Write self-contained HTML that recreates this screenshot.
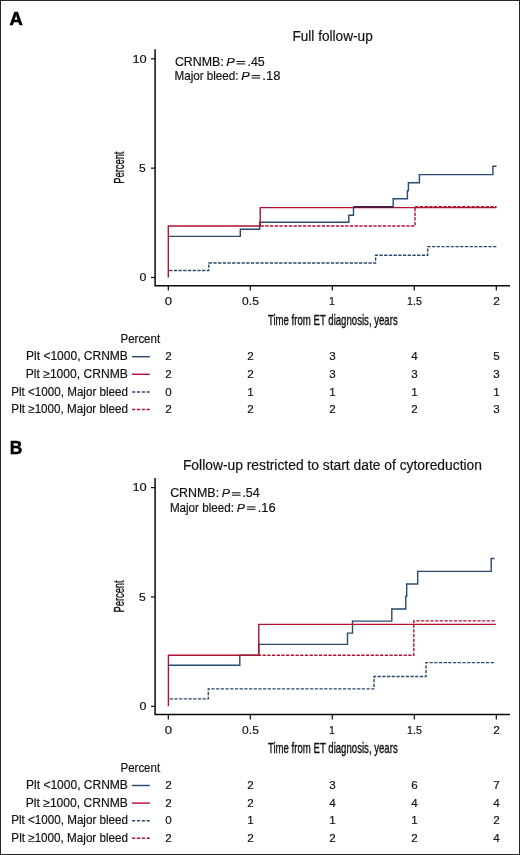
<!DOCTYPE html>
<html><head><meta charset="utf-8"><style>
html,body{margin:0;padding:0;background:#fff;width:520px;height:855px;overflow:hidden}
svg text{font-family:"Liberation Sans", sans-serif;stroke:#111;stroke-width:0.18px}
svg{will-change:transform}
</style></head><body>
<svg width="520" height="855" viewBox="0 0 520 855" style="display:block">
<rect x="0" y="0" width="520" height="855" fill="#fff"/>
<rect x="0.5" y="0.5" width="519" height="854" fill="none" stroke="#262626" stroke-width="1"/>
<text id="alab" x="9.58" y="24.80" font-size="18" textLength="13.25" lengthAdjust="spacingAndGlyphs" fill="#000" font-weight="bold" style="stroke:#000;stroke-width:0.5px">A</text>
<text id="atitle" x="292.40" y="41.00" font-size="14" textLength="80.34" lengthAdjust="spacingAndGlyphs" fill="#111" >Full follow-up</text>
<text id="apv1a" x="174.90" y="66.10" font-size="12.1" textLength="48.86" lengthAdjust="spacingAndGlyphs" fill="#111" >CRNMB:</text>
<text id="apv1p" x="226.19" y="66.10" font-size="11.8" textLength="8.41" lengthAdjust="spacingAndGlyphs" fill="#111" font-style="italic">P</text>
<text id="apv1v" x="247.47" y="66.10" font-size="12.1" textLength="17.26" lengthAdjust="spacingAndGlyphs" fill="#111" >.45</text>
<text id="apv2a" x="174.47" y="80.20" font-size="12.1" textLength="64.06" lengthAdjust="spacingAndGlyphs" fill="#111" >Major bleed:</text>
<text id="apv2p" x="241.19" y="80.20" font-size="11.8" textLength="8.41" lengthAdjust="spacingAndGlyphs" fill="#111" font-style="italic">P</text>
<text id="apv2v" x="262.35" y="80.20" font-size="12.1" textLength="18.07" lengthAdjust="spacingAndGlyphs" fill="#111" >.18</text>
<path d="M236.60,61.50 L245.20,61.50" stroke="#111" stroke-width="1.05"/>
<path d="M236.60,63.90 L245.20,63.90" stroke="#111" stroke-width="1.05"/>
<path d="M251.60,75.60 L260.20,75.60" stroke="#111" stroke-width="1.05"/>
<path d="M251.60,78.00 L260.20,78.00" stroke="#111" stroke-width="1.05"/>
<path d="M155.1,49.30 L155.1,285.80 L510,285.80" fill="none" stroke="#0a0a0a" stroke-width="1.5"/>
<path d="M151,277.50 L155.1,277.50" stroke="#0a0a0a" stroke-width="1.2"/>
<text id="ay0" x="139.50" y="281.25" font-size="11" textLength="6.92" lengthAdjust="spacingAndGlyphs" fill="#111" >0</text>
<path d="M151,168.15 L155.1,168.15" stroke="#0a0a0a" stroke-width="1.2"/>
<text id="ay5" x="139.05" y="171.90" font-size="11" textLength="6.77" lengthAdjust="spacingAndGlyphs" fill="#111" >5</text>
<path d="M151,58.80 L155.1,58.80" stroke="#0a0a0a" stroke-width="1.2"/>
<text id="ay10" x="132.42" y="62.55" font-size="11" textLength="14.30" lengthAdjust="spacingAndGlyphs" fill="#111" >10</text>
<path d="M168.30,285.80 L168.30,290.60" stroke="#0a0a0a" stroke-width="1.2"/>
<text id="ax0" x="164.65" y="304.80" font-size="11" textLength="7.29" lengthAdjust="spacingAndGlyphs" fill="#111" >0</text>
<path d="M250.30,285.80 L250.30,290.60" stroke="#0a0a0a" stroke-width="1.2"/>
<text id="ax1" x="242.14" y="304.80" font-size="11" textLength="16.73" lengthAdjust="spacingAndGlyphs" fill="#111" >0.5</text>
<path d="M332.30,285.80 L332.30,290.60" stroke="#0a0a0a" stroke-width="1.2"/>
<text id="ax2" x="329.07" y="304.80" font-size="11" textLength="5.93" lengthAdjust="spacingAndGlyphs" fill="#111" >1</text>
<path d="M414.30,285.80 L414.30,290.60" stroke="#0a0a0a" stroke-width="1.2"/>
<text id="ax3" x="407.02" y="304.80" font-size="11" textLength="14.87" lengthAdjust="spacingAndGlyphs" fill="#111" >1.5</text>
<path d="M496.30,285.80 L496.30,290.60" stroke="#0a0a0a" stroke-width="1.2"/>
<text id="ax4" x="493.33" y="304.80" font-size="11" textLength="6.59" lengthAdjust="spacingAndGlyphs" fill="#111" >2</text>
<text id="axt" x="267.96" y="324.50" font-size="13.9" textLength="129.77" lengthAdjust="spacingAndGlyphs" fill="#111" style="stroke:#111;stroke-width:0.35px">Time from ET diagnosis, years</text>
<g transform="translate(124.05,167.75) rotate(-90)"><text x="-16.0" y="0" font-size="13.9" textLength="32.2" lengthAdjust="spacingAndGlyphs" fill="#111" style="stroke:#111;stroke-width:0.35px">Percent</text></g>
<path d="M168.30,270.50 L208.80,270.50 L208.80,263.00 L375.60,263.00 L375.60,255.20 L427.70,255.20 L427.70,246.60 L497.00,246.60" fill="none" stroke="#2a4a70" stroke-width="1.4" stroke-dasharray="3.3,1.4" stroke-dashoffset="-0.85"/>
<path d="M260.20,226.00 L415.00,226.00 L415.00,206.60 L496.50,206.60" fill="none" stroke="#b01232" stroke-width="1.4" stroke-dasharray="3.3,1.4" stroke-dashoffset="-0.40"/>
<path d="M168.30,236.40 L240.30,236.40 L240.30,229.30 L259.70,229.30 L259.70,222.30 L348.80,222.30 L348.80,215.20 L353.50,215.20 L353.50,207.10 L393.20,207.10 L393.20,198.80 L407.40,198.80 L407.40,190.80 L408.40,190.80 L408.40,182.80 L419.40,182.80 L419.40,174.60 L492.90,174.60 L492.90,166.20 L496.50,166.20" fill="none" stroke="#2a4a70" stroke-width="1.4"/>
<path d="M168.30,277.50 L168.30,226.00 L260.20,226.00 L260.20,207.60 L496.50,207.60" fill="none" stroke="#b01232" stroke-width="1.4"/>
<path d="M353.5,206.95 L393.2,206.95" stroke="#3e2040" stroke-width="1.7"/>
<text id="apct" x="120.50" y="343.10" font-size="11.9" textLength="39.60" lengthAdjust="spacingAndGlyphs" fill="#111" >Percent</text>
<text id="alab0" x="26.05" y="360.40" font-size="12.0" textLength="101.80" lengthAdjust="spacingAndGlyphs" fill="#111" >Plt &lt;1000, CRNMB</text>
<path d="M132,356.70 L149.8,356.70" stroke="#2a4a70" stroke-width="1.45"/>
<text x="168.50" y="360.40" font-size="11.6" text-anchor="middle" fill="#111">2</text>
<text x="250.50" y="360.40" font-size="11.6" text-anchor="middle" fill="#111">2</text>
<text x="332.50" y="360.40" font-size="11.6" text-anchor="middle" fill="#111">3</text>
<text x="414.50" y="360.40" font-size="11.6" text-anchor="middle" fill="#111">4</text>
<text x="496.50" y="360.40" font-size="11.6" text-anchor="middle" fill="#111">5</text>
<text id="alab1" x="25.79" y="378.00" font-size="12.0" textLength="102.03" lengthAdjust="spacingAndGlyphs" fill="#111" >Plt ≥1000, CRNMB</text>
<path d="M132,374.30 L149.8,374.30" stroke="#b01232" stroke-width="1.45"/>
<text x="168.50" y="378.00" font-size="11.6" text-anchor="middle" fill="#111">2</text>
<text x="250.50" y="378.00" font-size="11.6" text-anchor="middle" fill="#111">2</text>
<text x="332.50" y="378.00" font-size="11.6" text-anchor="middle" fill="#111">3</text>
<text x="414.50" y="378.00" font-size="11.6" text-anchor="middle" fill="#111">3</text>
<text x="496.50" y="378.00" font-size="11.6" text-anchor="middle" fill="#111">3</text>
<text id="alab2" x="11.24" y="395.60" font-size="12.0" textLength="116.79" lengthAdjust="spacingAndGlyphs" fill="#111" >Plt &lt;1000, Major bleed</text>
<path d="M132,391.90 L149.8,391.90" stroke="#2a4a70" stroke-width="1.45" stroke-dasharray="3.2,1.67"/>
<text x="168.50" y="395.60" font-size="11.6" text-anchor="middle" fill="#111">0</text>
<text x="250.50" y="395.60" font-size="11.6" text-anchor="middle" fill="#111">1</text>
<text x="332.50" y="395.60" font-size="11.6" text-anchor="middle" fill="#111">1</text>
<text x="414.50" y="395.60" font-size="11.6" text-anchor="middle" fill="#111">1</text>
<text x="496.50" y="395.60" font-size="11.6" text-anchor="middle" fill="#111">1</text>
<text id="alab3" x="11.37" y="413.20" font-size="12.0" textLength="116.70" lengthAdjust="spacingAndGlyphs" fill="#111" >Plt ≥1000, Major bleed</text>
<path d="M132,409.50 L149.8,409.50" stroke="#b01232" stroke-width="1.45" stroke-dasharray="3.2,1.67"/>
<text x="168.50" y="413.20" font-size="11.6" text-anchor="middle" fill="#111">2</text>
<text x="250.50" y="413.20" font-size="11.6" text-anchor="middle" fill="#111">2</text>
<text x="332.50" y="413.20" font-size="11.6" text-anchor="middle" fill="#111">2</text>
<text x="414.50" y="413.20" font-size="11.6" text-anchor="middle" fill="#111">2</text>
<text x="496.50" y="413.20" font-size="11.6" text-anchor="middle" fill="#111">3</text>
<text id="blab" x="9.65" y="453.50" font-size="18" textLength="12.54" lengthAdjust="spacingAndGlyphs" fill="#000" font-weight="bold" style="stroke:#000;stroke-width:0.5px">B</text>
<text id="btitle" x="182.93" y="470.40" font-size="14" textLength="299.01" lengthAdjust="spacingAndGlyphs" fill="#111" >Follow-up restricted to start date of cytoreduction</text>
<text id="bpv1a" x="170.17" y="497.40" font-size="12.1" textLength="48.94" lengthAdjust="spacingAndGlyphs" fill="#111" >CRNMB:</text>
<text id="bpv1p" x="221.66" y="497.40" font-size="11.8" textLength="8.16" lengthAdjust="spacingAndGlyphs" fill="#111" font-style="italic">P</text>
<text id="bpv1v" x="242.40" y="497.40" font-size="12.1" textLength="17.34" lengthAdjust="spacingAndGlyphs" fill="#111" >.54</text>
<text id="bpv2a" x="169.89" y="511.50" font-size="12.1" textLength="64.03" lengthAdjust="spacingAndGlyphs" fill="#111" >Major bleed:</text>
<text id="bpv2p" x="236.66" y="511.50" font-size="11.8" textLength="8.16" lengthAdjust="spacingAndGlyphs" fill="#111" font-style="italic">P</text>
<text id="bpv2v" x="257.65" y="511.50" font-size="12.1" textLength="17.98" lengthAdjust="spacingAndGlyphs" fill="#111" >.16</text>
<path d="M231.90,492.80 L240.50,492.80" stroke="#111" stroke-width="1.05"/>
<path d="M231.90,495.20 L240.50,495.20" stroke="#111" stroke-width="1.05"/>
<path d="M246.90,506.90 L255.50,506.90" stroke="#111" stroke-width="1.05"/>
<path d="M246.90,509.30 L255.50,509.30" stroke="#111" stroke-width="1.05"/>
<path d="M155.1,478.10 L155.1,714.60 L510,714.60" fill="none" stroke="#0a0a0a" stroke-width="1.5"/>
<path d="M151,706.30 L155.1,706.30" stroke="#0a0a0a" stroke-width="1.2"/>
<text id="by0" x="139.50" y="710.05" font-size="11" textLength="6.92" lengthAdjust="spacingAndGlyphs" fill="#111" >0</text>
<path d="M151,596.95 L155.1,596.95" stroke="#0a0a0a" stroke-width="1.2"/>
<text id="by5" x="139.05" y="600.70" font-size="11" textLength="6.77" lengthAdjust="spacingAndGlyphs" fill="#111" >5</text>
<path d="M151,487.60 L155.1,487.60" stroke="#0a0a0a" stroke-width="1.2"/>
<text id="by10" x="132.42" y="491.35" font-size="11" textLength="14.30" lengthAdjust="spacingAndGlyphs" fill="#111" >10</text>
<path d="M168.30,714.60 L168.30,719.40" stroke="#0a0a0a" stroke-width="1.2"/>
<text id="bx0" x="164.65" y="733.60" font-size="11" textLength="7.29" lengthAdjust="spacingAndGlyphs" fill="#111" >0</text>
<path d="M250.30,714.60 L250.30,719.40" stroke="#0a0a0a" stroke-width="1.2"/>
<text id="bx1" x="242.14" y="733.60" font-size="11" textLength="16.73" lengthAdjust="spacingAndGlyphs" fill="#111" >0.5</text>
<path d="M332.30,714.60 L332.30,719.40" stroke="#0a0a0a" stroke-width="1.2"/>
<text id="bx2" x="329.07" y="733.60" font-size="11" textLength="5.93" lengthAdjust="spacingAndGlyphs" fill="#111" >1</text>
<path d="M414.30,714.60 L414.30,719.40" stroke="#0a0a0a" stroke-width="1.2"/>
<text id="bx3" x="407.02" y="733.60" font-size="11" textLength="14.87" lengthAdjust="spacingAndGlyphs" fill="#111" >1.5</text>
<path d="M496.30,714.60 L496.30,719.40" stroke="#0a0a0a" stroke-width="1.2"/>
<text id="bx4" x="493.33" y="733.60" font-size="11" textLength="6.59" lengthAdjust="spacingAndGlyphs" fill="#111" >2</text>
<text id="bxt" x="267.96" y="753.30" font-size="13.9" textLength="129.77" lengthAdjust="spacingAndGlyphs" fill="#111" style="stroke:#111;stroke-width:0.35px">Time from ET diagnosis, years</text>
<g transform="translate(124.05,596.55) rotate(-90)"><text x="-16.0" y="0" font-size="13.9" textLength="32.2" lengthAdjust="spacingAndGlyphs" fill="#111" style="stroke:#111;stroke-width:0.35px">Percent</text></g>
<path d="M168.40,698.90 L208.30,698.90 L208.30,688.90 L374.00,688.90 L374.00,676.50 L426.00,676.50 L426.00,662.60 L494.00,662.60" fill="none" stroke="#2a4a70" stroke-width="1.4" stroke-dasharray="3.3,1.4" stroke-dashoffset="-1.25"/>
<path d="M258.80,655.20 L413.80,655.20 L413.80,620.90 L495.00,620.90" fill="none" stroke="#b01232" stroke-width="1.4" stroke-dasharray="3.3,1.4" stroke-dashoffset="-3.75"/>
<path d="M168.40,665.30 L239.80,665.30 L239.80,655.20 L258.80,655.20 L258.80,644.40 L347.50,644.40 L347.50,633.10 L352.50,633.10 L352.50,621.10 L391.80,621.10 L391.80,609.00 L405.80,609.00 L405.80,596.20 L406.70,596.20 L406.70,584.00 L417.70,584.00 L417.70,571.40 L491.20,571.40 L491.20,558.50 L494.40,558.50" fill="none" stroke="#2a4a70" stroke-width="1.4"/>
<path d="M168.40,706.30 L168.40,655.20 L258.80,655.20 L258.80,624.40 L495.80,624.40" fill="none" stroke="#b01232" stroke-width="1.4"/>
<text id="bpct" x="120.50" y="771.90" font-size="11.9" textLength="39.60" lengthAdjust="spacingAndGlyphs" fill="#111" >Percent</text>
<text id="blab0" x="26.05" y="789.20" font-size="12.0" textLength="101.80" lengthAdjust="spacingAndGlyphs" fill="#111" >Plt &lt;1000, CRNMB</text>
<path d="M132,785.50 L149.8,785.50" stroke="#2a4a70" stroke-width="1.45"/>
<text x="168.50" y="789.20" font-size="11.6" text-anchor="middle" fill="#111">2</text>
<text x="250.50" y="789.20" font-size="11.6" text-anchor="middle" fill="#111">2</text>
<text x="332.50" y="789.20" font-size="11.6" text-anchor="middle" fill="#111">3</text>
<text x="414.50" y="789.20" font-size="11.6" text-anchor="middle" fill="#111">6</text>
<text x="496.50" y="789.20" font-size="11.6" text-anchor="middle" fill="#111">7</text>
<text id="blab1" x="25.79" y="806.80" font-size="12.0" textLength="102.03" lengthAdjust="spacingAndGlyphs" fill="#111" >Plt ≥1000, CRNMB</text>
<path d="M132,803.10 L149.8,803.10" stroke="#b01232" stroke-width="1.45"/>
<text x="168.50" y="806.80" font-size="11.6" text-anchor="middle" fill="#111">2</text>
<text x="250.50" y="806.80" font-size="11.6" text-anchor="middle" fill="#111">2</text>
<text x="332.50" y="806.80" font-size="11.6" text-anchor="middle" fill="#111">4</text>
<text x="414.50" y="806.80" font-size="11.6" text-anchor="middle" fill="#111">4</text>
<text x="496.50" y="806.80" font-size="11.6" text-anchor="middle" fill="#111">4</text>
<text id="blab2" x="11.24" y="824.40" font-size="12.0" textLength="116.79" lengthAdjust="spacingAndGlyphs" fill="#111" >Plt &lt;1000, Major bleed</text>
<path d="M132,820.70 L149.8,820.70" stroke="#2a4a70" stroke-width="1.45" stroke-dasharray="3.2,1.67"/>
<text x="168.50" y="824.40" font-size="11.6" text-anchor="middle" fill="#111">0</text>
<text x="250.50" y="824.40" font-size="11.6" text-anchor="middle" fill="#111">1</text>
<text x="332.50" y="824.40" font-size="11.6" text-anchor="middle" fill="#111">1</text>
<text x="414.50" y="824.40" font-size="11.6" text-anchor="middle" fill="#111">1</text>
<text x="496.50" y="824.40" font-size="11.6" text-anchor="middle" fill="#111">2</text>
<text id="blab3" x="11.37" y="842.00" font-size="12.0" textLength="116.70" lengthAdjust="spacingAndGlyphs" fill="#111" >Plt ≥1000, Major bleed</text>
<path d="M132,838.30 L149.8,838.30" stroke="#b01232" stroke-width="1.45" stroke-dasharray="3.2,1.67"/>
<text x="168.50" y="842.00" font-size="11.6" text-anchor="middle" fill="#111">2</text>
<text x="250.50" y="842.00" font-size="11.6" text-anchor="middle" fill="#111">2</text>
<text x="332.50" y="842.00" font-size="11.6" text-anchor="middle" fill="#111">2</text>
<text x="414.50" y="842.00" font-size="11.6" text-anchor="middle" fill="#111">2</text>
<text x="496.50" y="842.00" font-size="11.6" text-anchor="middle" fill="#111">4</text>
</svg>
</body></html>
